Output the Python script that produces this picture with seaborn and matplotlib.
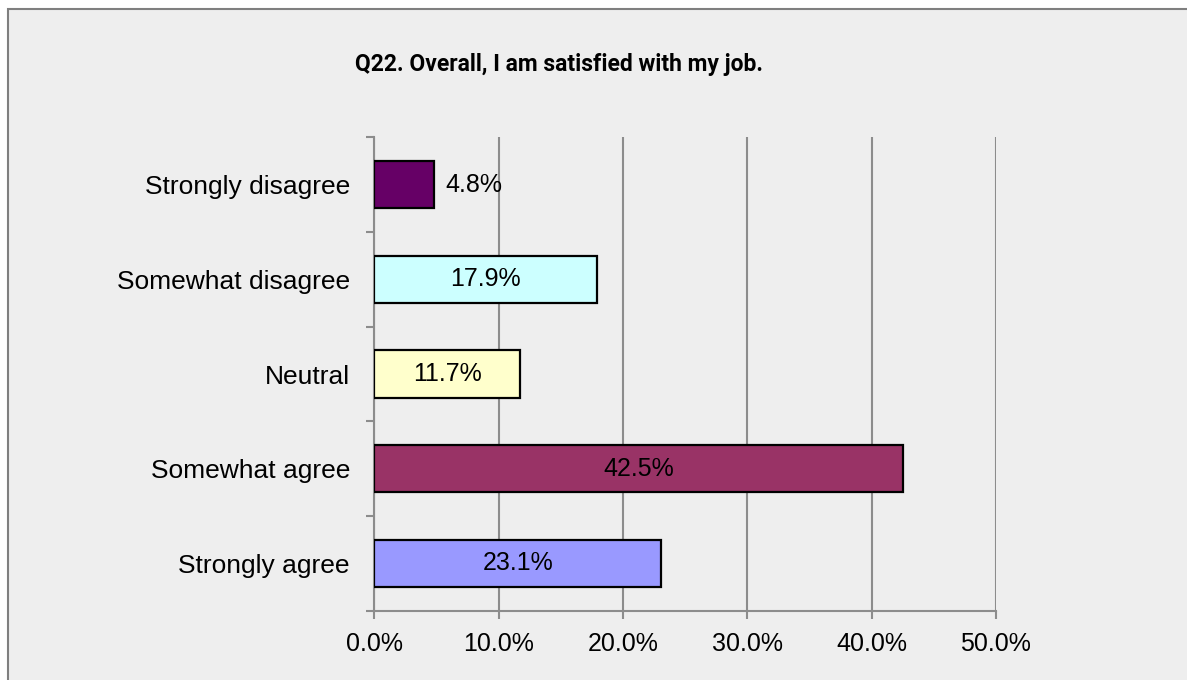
import matplotlib
matplotlib.use("Agg")
import matplotlib.pyplot as plt
from matplotlib.patches import Rectangle
from matplotlib.ticker import FixedLocator, FuncFormatter
import seaborn as sns
import pandas as pd

# Survey responses, top to bottom
categories = ["Strongly disagree", "Somewhat disagree", "Neutral",
              "Somewhat agree", "Strongly agree"]
percentages = [4.8, 17.9, 11.7, 42.5, 23.1]
bar_colors = ["#660066", "#CCFFFF", "#FFFFCC", "#993366", "#9999FF"]
x_ticks = [0, 10, 20, 30, 40, 50]
title = "Q22. Overall, I am satisfied with my job."

df = pd.DataFrame({"response": categories, "pct": percentages})

sns.set_style("white")
plt.rcParams["font.family"] = ["Liberation Sans", "DejaVu Sans"]

W, H, DPI = 1187, 680, 100
fig = plt.figure(figsize=(W / DPI, H / DPI), dpi=DPI, facecolor="white")

# chart area panel with a thin border on its top/left edges
panel = Rectangle((8 / W, -0.2), 1.2, (H - 9) / H + 0.2,
                  transform=fig.transFigure, facecolor="#EEEEEE",
                  edgecolor="#7F7F7F", linewidth=1.5, zorder=-10)
fig.patches.append(panel)

ax = fig.add_axes([374.3 / W, (H - 610.7) / H, (995.8 - 374.3) / W,
                   (610.7 - 137.3) / H])
ax.set_facecolor("none")
ax.set_zorder(5)

sns.barplot(data=df, x="pct", y="response", hue="response", order=categories,
            hue_order=categories, palette=bar_colors, saturation=1,
            orient="h", width=0.5, edgecolor="black", linewidth=1.6,
            legend=False, ax=ax, zorder=3)

ax.set_xlim(0, 50)
ax.set_ylim(4.5, -0.5)
ax.set_xticks(x_ticks)
ax.xaxis.set_major_formatter(FuncFormatter(lambda v, _: f"{v:.1f}%"))
ax.grid(axis="x", color="#8C8C8C", linewidth=1.5, zorder=0)
ax.grid(axis="y", visible=False)
ax.set_axisbelow(True)

for side in ("top", "right"):
    ax.spines[side].set_visible(False)
for side in ("left", "bottom"):
    ax.spines[side].set_color("#8C8C8C")
    ax.spines[side].set_linewidth(1.5)

ax.set_xlabel("")
ax.set_ylabel("")
ax.tick_params(axis="x", which="major", length=6, width=1.5, color="#8C8C8C",
               labelsize=18, labelcolor="black", pad=9, bottom=True)
ax.tick_params(axis="y", which="major", length=0, labelsize=19,
               labelcolor="black", pad=17.5)
ax.yaxis.set_minor_locator(FixedLocator([i - 0.5 for i in range(len(categories) + 1)]))
ax.tick_params(axis="y", which="minor", length=6, width=1.5, color="#8C8C8C",
               left=True)

# value labels: inside for wide bars, outside for narrow ones
for i, v in enumerate(percentages):
    txt = f"{v:.1f}%"
    if v < 8:
        ax.text(v + 0.9, i, txt, ha="left", va="center", fontsize=18,
                color="black", zorder=4)
    else:
        ax.text(v / 2, i, txt, ha="center", va="center", fontsize=18,
                color="black", zorder=4)

fig.text(559 / W, (H - 64) / H, title, ha="center", va="center",
         fontsize=16.5, fontweight="bold", color="black",
         family=["Roboto", "DejaVu Sans"])

fig.savefig("out.png", dpi=DPI, facecolor=fig.get_facecolor())
